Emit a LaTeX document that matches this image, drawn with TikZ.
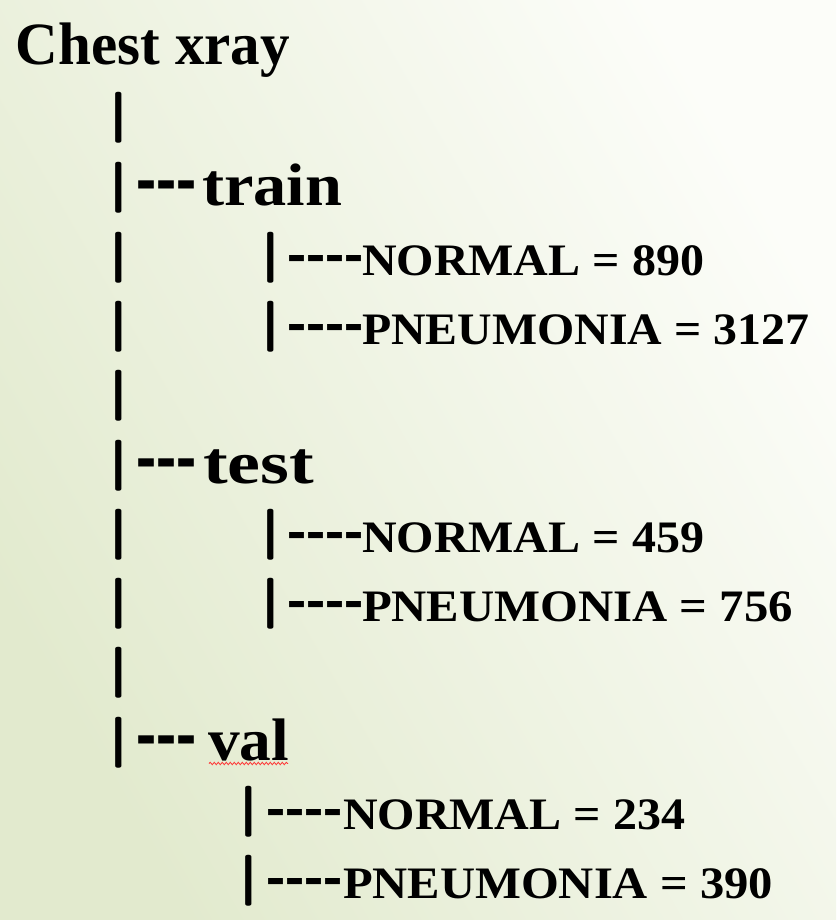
\documentclass[tikz,border=0pt]{standalone}
\usepackage{fontspec}
\usepackage{graphicx}
\usetikzlibrary{decorations.pathmorphing}
\newfontfamily\lib{Liberation Serif}
\definecolor{bgG}{RGB}{226,234,206}
\definecolor{bgW}{RGB}{252,253,249}
\newcommand\fitbox[2]{\setbox0=\hbox{#2}\pgfmathsetmacro\fitfac{#1/\the\wd0}\scalebox{\fitfac}[1]{\box0}}
\newcommand\fitboxv[3]{\setbox0=\hbox{#3}\pgfmathsetmacro\fitfac{#1/\the\wd0}\scalebox{\fitfac}[#2]{\box0}}
\newcommand\fA{\fontsize{60}{60}\selectfont\lib\bfseries}
\newcommand\fB{\fontsize{45}{45}\selectfont\lib\bfseries}
\newcommand\vb{\fontsize{51}{51}\selectfont\bfseries\scalebox{2}[1]{|}}
\newcommand\dsh{\hbox{-}}
\tikzset{
  txt/.style={anchor=base west, inner sep=0pt, outer sep=0pt},
  barn/.style={anchor=base, inner sep=0pt, outer sep=0pt},
}
\begin{document}
\begin{tikzpicture}[x=1pt,y=-1pt]
\useasboundingbox (0,0) rectangle (836,920);
\shade[top color=bgG, bottom color=bgW, shading angle=120] (0,0) rectangle (836,920);

% title
\node[txt] (title) at (16,65) {\fitbox{274}{\fA Chest xray}};

% level-0 bars
\foreach \b/\n in {135/b2,205/b3,275/b4,344/b5,413/b6,483/b7,552/b8,621/b9,690/b10,760/b11}{
  \node[barn] (\n) at (119,\b-4.75) {\vb};
}
% level-1 bars
\foreach \b/\n in {275/c4,344/c5,552/c8,621/c9}{
  \node[barn] (\n) at (271,\b-4.75) {\vb};
}
\foreach \b/\n in {829/c12,898/c13}{
  \node[barn] (\n) at (249,\b-4.75) {\vb};
}

% level-1 dashes and labels
\node[txt] (d3) at (136,205+2) {\fitboxv{60}{1.6}{\fA\dsh\dsh\dsh}};
\node[txt] (train) at (202,205) {\fitbox{140}{\fA train}};
\node[txt] (d7) at (136,483+2) {\fitboxv{60}{1.6}{\fA\dsh\dsh\dsh}};
\node[txt] (test) at (203,483) {\fitbox{111}{\fA test}};
\node[txt] (d11) at (136,760+2) {\fitboxv{60}{1.6}{\fA\dsh\dsh\dsh}};
\node[txt] (val) at (208,760) {\fitbox{81}{\fA val}};
\draw[red!80, line width=0.8pt, decorate, decoration={snake, amplitude=1.2pt, segment length=4pt}] (val.base west)++(1,3.5) -- ++(79,0);

% level-2 dashes and labels
\foreach \b/\n in {275/e4,344/e5,552/e8,621/e9}{
  \node[txt] (\n) at (287,\b) {\fitboxv{76}{1.6}{\fB\dsh\dsh\dsh\dsh}};
}
\foreach \b/\n in {829/e12,898/e13}{
  \node[txt] (\n) at (266,\b) {\fitboxv{76}{1.6}{\fB\dsh\dsh\dsh\dsh}};
}
\node[txt] (n1) at (362,275) {\fitbox{342}{\fB NORMAL = 890}};
\node[txt] (p1) at (362,344) {\fitbox{447}{\fB PNEUMONIA = 3127}};
\node[txt] (n2) at (362,552) {\fitbox{342}{\fB NORMAL = 459}};
\node[txt] (p2) at (362,621) {\fitbox{431}{\fB PNEUMONIA = 756}};
\node[txt] (n3) at (343,829) {\fitbox{342}{\fB NORMAL = 234}};
\node[txt] (p3) at (343,898) {\fitbox{430}{\fB PNEUMONIA = 390}};
\end{tikzpicture}
\end{document}
